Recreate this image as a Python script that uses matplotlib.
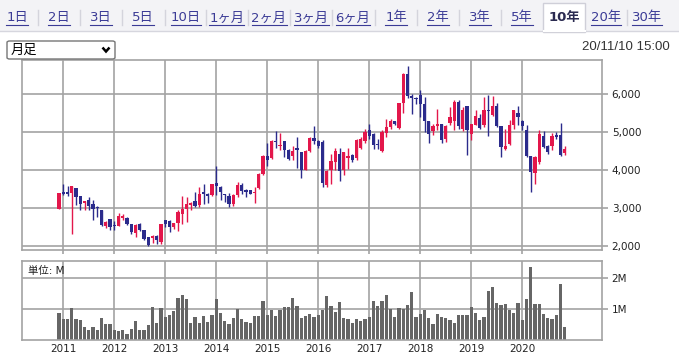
import matplotlib
matplotlib.use("Agg")
import matplotlib.pyplot as plt
from matplotlib.patches import Rectangle, FancyBboxPatch
from matplotlib.lines import Line2D

plt.rcParams['font.family'] = ['DejaVu Sans', 'Noto Sans CJK JP']

# ---------------- data (monthly, Dec 2010 .. Nov 2020) ----------------
opens = [2970, 3430, 3420, 3390, 3525, 3305, 3135, 3215, 3090, 3020,
         2935, 2530, 2695, 2545, 2520, 2740, 2740, 2565, 2335, 2580,
         2405, 2230, 2210, 2255, 2100, 2670, 2650, 2495, 2600, 2830,
         2970, 3065, 3170, 3065, 3420, 3375, 3330, 3655, 3550, 3355,
         3305, 3090, 3330, 3595, 3460, 3460, 3400, 3515, 3905, 4360,
         4325, 4755, 4635, 4755, 4535, 4360, 4590, 4475, 4010, 4500,
         4855, 4766, 4740, 3595, 3991, 4211, 4432, 3991, 4326, 4388,
         4326, 4590, 4766, 5048, 4943, 4678, 4502, 4978, 5136, 5286,
         5110, 5771, 6528, 5947, 5903, 5991, 5753, 5295, 5031, 5163,
         5225, 4810, 5242, 5295, 5797, 5092, 5700, 4960, 5198, 5383,
         5181, 5594, 5445, 5683, 5154, 4564, 4696, 5198, 5515, 5295,
         5048, 4361, 3921, 4211, 4890, 4625, 4625, 4934, 4916, 4449]
highs = [3400, 3620, 3570, 3580, 3530, 3310, 3180, 3285, 3200, 3040,
         2940, 2640, 2700, 2650, 2850, 2845, 2760, 2570, 2560, 2600,
         2410, 2240, 2275, 2270, 2570, 2690, 2670, 2610, 2935, 3305,
         3285, 3155, 3420, 3550, 3620, 3390, 3630, 4100, 3570, 3375,
         3390, 3360, 3685, 3655, 3505, 3470, 3550, 3920, 4390, 4700,
         4800, 5015, 4975, 4760, 4565, 4625, 4870, 4480, 4520, 4860,
         5155, 4802, 4802, 3991, 4432, 4590, 4590, 4480, 4590, 4414,
         4828, 4870, 5092, 5207, 4978, 4828, 5048, 5357, 5348, 5286,
         5780, 6546, 6740, 6017, 5930, 6123, 5930, 5295, 5225, 5621,
         5225, 5181, 5665, 5859, 5859, 5665, 5700, 5225, 5577, 5489,
         5930, 5965, 5947, 5771, 5154, 5092, 5330, 5577, 5683, 5330,
         5181, 4361, 4361, 5048, 5031, 4652, 4978, 5004, 5242, 4625]
lows = [2960, 3330, 3300, 2320, 3070, 2950, 2950, 2950, 2690, 2760,
        2520, 2480, 2405, 2425, 2510, 2690, 2540, 2300, 2230, 2380,
        2150, 2000, 2070, 2050, 2050, 2495, 2360, 2450, 2390, 2580,
        2625, 2935, 3020, 3020, 3110, 3130, 3300, 3330, 3200, 3155,
        3020, 3050, 3285, 3375, 3285, 3360, 3130, 3500, 3860, 4100,
        4300, 4590, 4535, 4345, 4255, 4275, 4060, 3800, 3990, 4480,
        4695, 4590, 3551, 3551, 3621, 3991, 3709, 3860, 4035, 4211,
        4255, 4560, 4713, 4828, 4564, 4564, 4476, 4872, 5092, 5181,
        5092, 5506, 5912, 5489, 5753, 5401, 5004, 4713, 4916, 5048,
        4713, 4740, 5181, 5048, 5092, 5022, 4388, 4802, 5181, 5092,
        5136, 4890, 5418, 5136, 4343, 4537, 4652, 5092, 5181, 5048,
        4343, 3418, 3621, 4167, 4590, 4432, 4520, 4828, 4361, 4388]
closes = [3390, 3375, 3375, 3570, 3285, 3090, 3170, 3040, 2970, 3000,
          2540, 2635, 2495, 2530, 2775, 2775, 2565, 2350, 2535, 2405,
          2185, 2010, 2245, 2140, 2565, 2580, 2495, 2600, 2890, 2980,
          3090, 3130, 3050, 3375, 3375, 3305, 3620, 3570, 3420, 3330,
          3090, 3330, 3595, 3445, 3420, 3375, 3425, 3905, 4360, 4255,
          4765, 4730, 4650, 4535, 4280, 4495, 4520, 3990, 4500, 4855,
          4760, 4634, 3656, 3973, 4229, 4502, 3973, 4476, 4370, 4273,
          4784, 4828, 5004, 4890, 4652, 4652, 4996, 5136, 5295, 5207,
          5771, 6528, 5947, 5912, 5877, 5753, 5295, 4960, 5154, 5225,
          4784, 5163, 5401, 5797, 5163, 5594, 5066, 5207, 5418, 5119,
          5594, 5559, 5683, 5154, 4608, 4643, 5198, 5577, 5401, 5172,
          4370, 3947, 4343, 4943, 4608, 4476, 4890, 4872, 4388, 4555]
volumes_m = [0.88, 0.68, 0.68, 1.04, 0.68, 0.65, 0.42, 0.32, 0.42, 0.32,
             0.71, 0.52, 0.52, 0.32, 0.29, 0.32, 0.20, 0.36, 0.62, 0.32,
             0.32, 0.49, 1.07, 0.55, 1.04, 0.75, 0.81, 0.94, 1.36, 1.46,
             1.33, 0.55, 0.75, 0.55, 0.78, 0.58, 0.81, 1.33, 0.88, 0.62,
             0.52, 0.71, 1.00, 0.68, 0.58, 0.55, 0.78, 0.78, 1.27, 0.81,
             0.97, 0.78, 0.97, 1.07, 1.07, 1.36, 1.10, 0.71, 0.78, 0.84,
             0.75, 0.81, 0.97, 1.43, 1.10, 0.91, 1.23, 0.71, 0.68, 0.55,
             0.68, 0.62, 0.68, 0.75, 1.27, 1.10, 1.27, 1.46, 1.01, 0.75,
             1.04, 1.01, 1.14, 1.56, 0.75, 0.84, 0.97, 0.71, 0.52, 0.84,
             0.75, 0.71, 0.65, 0.55, 0.81, 0.81, 0.81, 1.07, 0.88, 0.65,
             0.75, 1.59, 1.72, 1.20, 1.14, 1.17, 0.97, 0.88, 1.20, 0.65,
             1.33, 2.37, 1.17, 1.17, 0.84, 0.71, 0.68, 0.81, 1.82, 0.42]
years = ["2011", "2012", "2013", "2014", "2015", "2016", "2017", "2018", "2019", "2020"]
price_ticks = [2000, 3000, 4000, 5000, 6000]
price_tick_labels = ["2,000", "3,000", "4,000", "5,000", "6,000"]
vol_ticks = [1, 2]
vol_tick_labels = ["1M", "2M"]
tabs = ["1日", "2日", "3日", "5日", "10日", "1ヶ月", "2ヶ月", "3ヶ月", "6ヶ月",
        "1年", "2年", "3年", "5年", "10年", "20年", "30年"]
selected_tab = "10年"
period_label = "月足"
timestamp = "20/11/10 15:00"
unit_label = "単位: M"

# ---------------- layout ----------------
W, H = 679, 355
fig = plt.figure(figsize=(W / 100, H / 100), dpi=100)
fig.patch.set_facecolor("white")

def fx(px):
    return px / W

def fy(py):
    return 1 - py / H

UP = "#e3174b"
DOWN = "#2b2b8c"
GRID = "#a3a3a3"
LINK = "#3b3b96"

# tab bar
fig.add_artist(Rectangle((0, fy(31)), 1, 31 / H, transform=fig.transFigure,
                         facecolor="#f3f3f6", edgecolor="none", zorder=0))
fig.add_artist(Line2D([0, 1], [fy(31), fy(31)], transform=fig.transFigure,
                      color="#d6d6de", lw=1))
tab_centers = [17, 59, 101, 143, 186, 227, 269, 311, 353, 396, 438, 480, 522, 564, 606, 647]
renderer = fig.canvas.get_renderer()
for k, (lab, cx) in enumerate(zip(tabs, tab_centers)):
    if lab == selected_tab:
        fig.add_artist(Rectangle((fx(cx - 21), fy(31.5)), 42 / W, 28.5 / H,
                                 transform=fig.transFigure, facecolor="white",
                                 edgecolor="#cfcfd8", lw=1, zorder=2))
        fig.add_artist(Line2D([fx(cx - 20.5), fx(cx + 20.5)], [fy(31), fy(31)],
                              transform=fig.transFigure, color="white", lw=1.5, zorder=3))
        fig.text(fx(cx), fy(18), lab, ha="center", va="center", fontsize=9.5,
                 color="#2a2a50", fontweight="bold", zorder=4)
    else:
        t = fig.text(fx(cx), fy(18), lab, ha="center", va="center", fontsize=9.5,
                     color=LINK, zorder=4)
        bb = t.get_window_extent(renderer)
        fig.add_artist(Line2D([bb.x0 / W, bb.x1 / W], [fy(25), fy(25)],
                              transform=fig.transFigure, color=LINK, lw=0.8))
    if k < len(tabs) - 1:
        sx = (cx + tab_centers[k + 1]) / 2
        if lab != selected_tab and tabs[k + 1] != selected_tab:
            fig.add_artist(Line2D([fx(sx), fx(sx)], [fy(10), fy(25)],
                                  transform=fig.transFigure, color="#d4d4dc", lw=1))

# dropdown
fig.add_artist(FancyBboxPatch((fx(7), fy(59)), 108 / W, 18 / H,
                              boxstyle="round,pad=0,rounding_size=0.004",
                              transform=fig.transFigure, facecolor="white",
                              edgecolor="#767676", lw=1))
fig.text(fx(11), fy(50), period_label, ha="left", va="center", fontsize=9.5,
         color="black", family=["Noto Sans CJK JP"])
fig.add_artist(Line2D([fx(102.5), fx(106), fx(109.5)], [fy(47.5), fy(51.5), fy(47.5)],
                      transform=fig.transFigure, color="black", lw=1.8,
                      solid_capstyle="butt", solid_joinstyle="miter"))
fig.text(fx(670), fy(47), timestamp, ha="right", va="center", fontsize=9.5,
         color="#333333", family=["Liberation Sans"])

# axes geometry
LEFT, RIGHT = 22, 602
x0 = (LEFT - 59) / 4.25
x1 = (RIGHT - 59) / 4.25
n = len(opens)
xs = list(range(n))
year_pos = [1 + 12 * k for k in range(len(years))]

# ---------------- price panel ----------------
ax = fig.add_axes([fx(LEFT), fy(250), (RIGHT - LEFT) / W, 190 / H])
ax.set_xlim(x0, x1)
ax.set_ylim(1886, 6902)
for yp in year_pos:
    ax.axvline(yp, color=GRID, lw=1.2, zorder=0)
for pt in price_ticks:
    ax.axhline(pt, color=GRID, lw=1.2, zorder=0)
for i in xs:
    o, h, l, c = opens[i], highs[i], lows[i], closes[i]
    col = UP if c >= o else DOWN
    ax.vlines(i, l, h, color=col, lw=1.0, zorder=2)
    bot = min(o, c)
    ht = max(abs(c - o), 22)
    ax.bar(i, ht, bottom=bot, width=0.72, color=col, lw=0, zorder=3)
ax.yaxis.tick_right()
ax.set_yticks(price_ticks)
ax.set_yticklabels(price_tick_labels)
ax.set_xticks(year_pos)
ax.set_xticklabels([])
ax.tick_params(axis="y", length=4, width=1.2, color=GRID, pad=3,
               labelsize=7.5, labelcolor="#222222")
ax.tick_params(axis="x", length=3, width=1.2, color=GRID)
for s in ax.spines.values():
    s.set_color(GRID)
    s.set_linewidth(1.2)

# ---------------- volume panel ----------------
av = fig.add_axes([fx(LEFT), fy(340), (RIGHT - LEFT) / W, 79 / H])
av.set_xlim(x0, x1)
av.set_ylim(0, 2.55)
for yp in year_pos:
    av.axvline(yp, color=GRID, lw=1.2, zorder=0)
for vt in vol_ticks:
    av.axhline(vt, color=GRID, lw=1.2, zorder=0)
av.bar(xs, volumes_m, width=0.72, color="#666666", lw=0, zorder=2)
av.yaxis.tick_right()
av.set_yticks(vol_ticks)
av.set_yticklabels(vol_tick_labels)
av.set_xticks(year_pos)
av.set_xticklabels(years)
av.tick_params(axis="y", length=4, width=1.2, color=GRID, pad=3,
               labelsize=7.5, labelcolor="#222222")
av.tick_params(axis="x", length=0, pad=3, labelsize=7.5, labelcolor="#222222")
for s in av.spines.values():
    s.set_color(GRID)
    s.set_linewidth(1.2)
av.text(0.01, 0.88, unit_label, transform=av.transAxes, ha="left", va="center",
        fontsize=7.5, color="#222222")

fig.savefig("out.png", dpi=100, facecolor="white")
